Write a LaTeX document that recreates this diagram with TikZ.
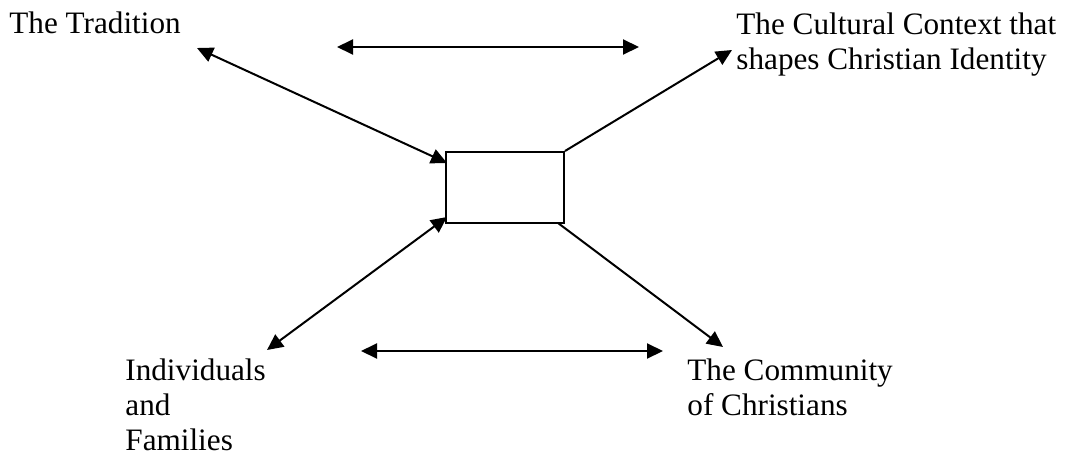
\documentclass[tikz,border=0pt]{standalone}
\usepackage{fontspec}
\setmainfont{Liberation Serif}
\usetikzlibrary{arrows.meta}
\begin{document}
\begin{tikzpicture}[x=0.5pt,y=-0.5pt,
  label/.style={inner sep=0pt,anchor=base west,align=left,font=\fontsize{15.6}{17.3}\selectfont},
  link/.style={line width=1pt,{Triangle[length=8pt,width=7.5pt]}-{Triangle[length=8pt,width=7.5pt]}},
  onelink/.style={line width=1pt,-{Triangle[length=8pt,width=7.5pt]}},
  hub/.style={draw,line width=1pt,fill=white,minimum width=59pt,minimum height=35.5pt,inner sep=0pt}]
\useasboundingbox (0,0) rectangle (1069,455);

% labels (a multi-line label sits on the baseline of its last line)
\node[label] (trad) at (9,33) {The Tradition};
\node[label] (cult) at (736,69) {The Cultural Context that\\shapes Christian Identity};
\node[label] (indiv) at (125,450) {Individuals\\and\\Families};
\node[label] (comm) at (687,415) {The Community\\of Christians};

% central box
\node[hub] (box) at (505,187.5) {};

% free ends of the connectors
\coordinate (tradEnd) at (197,48);
\coordinate (cultEnd) at (732,50);
\coordinate (indivEnd) at (267,350);
\coordinate (commEnd) at (723,347);
\coordinate (topL) at (337,47);
\coordinate (topR) at (639,47);
\coordinate (botL) at (361,351);
\coordinate (botR) at (663,351);
\coordinate (boxTL) at (447,163);
\coordinate (boxBL) at (447,217);
\coordinate (boxBR) at (558,223);

% connectors
\draw[link] (boxTL) -- (tradEnd);
\draw[onelink] (box.north east) -- (cultEnd);
\draw[link] (boxBL) -- (indivEnd);
\draw[onelink] (boxBR) -- (commEnd);
\draw[link] (topL) -- (topR);
\draw[link] (botL) -- (botR);
\end{tikzpicture}
\end{document}
